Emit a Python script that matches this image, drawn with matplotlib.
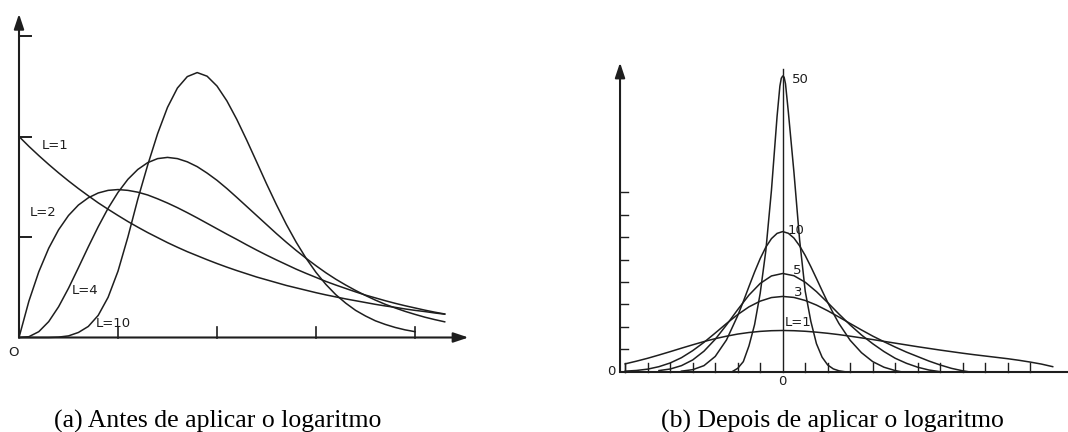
import matplotlib.pyplot as plt

W, H = 1068, 432

# (a) intensity densities for L looks, unit mean
x_int = [0.00, 0.05, 0.10, 0.15, 0.20, 0.25, 0.30, 0.35, 0.40, 0.45,
         0.50, 0.55, 0.60, 0.65, 0.70, 0.75, 0.80, 0.85, 0.90, 0.95,
         1.00, 1.05, 1.10, 1.15, 1.20, 1.25, 1.30, 1.35, 1.40, 1.45,
         1.50, 1.55, 1.60, 1.65, 1.70, 1.75, 1.80, 1.85, 1.90, 1.95,
         2.00, 2.05, 2.10, 2.15]
int_l1 = [1.000, 0.951, 0.905, 0.861, 0.819, 0.779, 0.741, 0.705, 0.670, 0.638,
          0.607, 0.577, 0.549, 0.522, 0.497, 0.472, 0.449, 0.427, 0.407, 0.387,
          0.368, 0.350, 0.333, 0.317, 0.301, 0.287, 0.273, 0.259, 0.247, 0.235,
          0.223, 0.212, 0.202, 0.192, 0.183, 0.174, 0.165, 0.157, 0.150, 0.142,
          0.135, 0.129, 0.122, 0.116]
int_l2 = [0.000, 0.181, 0.327, 0.444, 0.536, 0.607, 0.659, 0.695, 0.719, 0.732,
          0.736, 0.732, 0.723, 0.709, 0.690, 0.669, 0.646, 0.621, 0.595, 0.568,
          0.541, 0.514, 0.488, 0.461, 0.435, 0.410, 0.386, 0.363, 0.340, 0.319,
          0.299, 0.279, 0.261, 0.244, 0.227, 0.211, 0.197, 0.183, 0.170, 0.158,
          0.147, 0.136, 0.126, 0.117]
int_l4 = [0.000, 0.004, 0.029, 0.079, 0.153, 0.245, 0.347, 0.451, 0.551, 0.643,
          0.722, 0.787, 0.836, 0.870, 0.890, 0.896, 0.890, 0.874, 0.850, 0.818,
          0.782, 0.741, 0.697, 0.652, 0.607, 0.562, 0.517, 0.474, 0.433, 0.394,
          0.357, 0.322, 0.290, 0.261, 0.234, 0.209, 0.186, 0.165, 0.147, 0.130,
          0.115, 0.101, 0.089, 0.078]
x_int10 = x_int[:41]
int_l10 = [0.000, 0.000, 0.000, 0.000, 0.002, 0.008, 0.025, 0.055, 0.110, 0.200,
           0.330, 0.500, 0.688, 0.858, 1.014, 1.145, 1.241, 1.298, 1.318, 1.300,
           1.251, 1.177, 1.085, 0.982, 0.874, 0.765, 0.661, 0.563, 0.474, 0.394,
           0.324, 0.264, 0.213, 0.171, 0.135, 0.107, 0.083, 0.065, 0.050, 0.038,
           0.029]
int_labels = ['L=1', 'L=2', 'L=4', 'L=10']
int_label_pos = [(0.116, 0.955), (0.056, 0.623), (0.268, 0.234), (0.389, 0.071)]
int_xticks = [0.5, 1.0, 1.5, 2.0]
int_yticks = [0.5, 1.0, 1.5]

# (b) densities after the log transform
x_log1 = [-1.4, -1.3, -1.2, -1.1, -1.0, -0.9, -0.8, -0.7, -0.6, -0.5,
          -0.4, -0.3, -0.2, -0.1, 0.0, 0.1, 0.2, 0.3, 0.4, 0.5,
          0.6, 0.7, 0.8, 0.9, 1.0, 1.1, 1.2, 1.3, 1.4, 1.5,
          1.6, 1.7, 1.8, 1.9, 2.0, 2.1, 2.2, 2.3, 2.4]
log_l1 = [0.070, 0.094, 0.120, 0.149, 0.179, 0.210, 0.240, 0.269, 0.295, 0.317,
          0.336, 0.350, 0.360, 0.366, 0.368, 0.366, 0.361, 0.353, 0.343, 0.331,
          0.317, 0.302, 0.287, 0.271, 0.255, 0.239, 0.223, 0.208, 0.193, 0.179,
          0.165, 0.152, 0.140, 0.128, 0.116, 0.102, 0.086, 0.068, 0.045]
x_log3 = [-1.4, -1.3, -1.2, -1.1, -1.0, -0.9, -0.8, -0.7, -0.6, -0.5,
          -0.4, -0.3, -0.2, -0.1, 0.0, 0.1, 0.2, 0.3, 0.4, 0.5,
          0.6, 0.7, 0.8, 0.9, 1.0, 1.1, 1.2, 1.3, 1.4, 1.5, 1.6, 1.65]
log_l3 = [0.005, 0.011, 0.023, 0.045, 0.078, 0.125, 0.188, 0.262, 0.345, 0.430,
          0.510, 0.579, 0.630, 0.662, 0.672, 0.663, 0.636, 0.595, 0.544, 0.488,
          0.430, 0.373, 0.318, 0.268, 0.220, 0.175, 0.135, 0.095, 0.060, 0.030,
          0.008, 0.000]
x_log5 = [-1.1, -1.0, -0.9, -0.8, -0.7, -0.6, -0.5, -0.4, -0.3, -0.2, -0.1,
          0.0, 0.1, 0.2, 0.3, 0.4, 0.5, 0.6, 0.7, 0.8, 0.9, 1.0, 1.1, 1.2,
          1.3, 1.4]
log_l5 = [0.010, 0.024, 0.054, 0.105, 0.183, 0.289, 0.417, 0.554, 0.684, 0.788,
          0.855, 0.877, 0.857, 0.799, 0.715, 0.617, 0.515, 0.417, 0.328, 0.250,
          0.180, 0.120, 0.075, 0.040, 0.015, 0.000]
x_log10 = [-0.9, -0.8, -0.7, -0.6, -0.5, -0.4, -0.35, -0.3, -0.25, -0.2,
           -0.15, -0.1, -0.05, 0.0, 0.05, 0.1, 0.15, 0.2, 0.25, 0.3,
           0.35, 0.4, 0.45, 0.5, 0.6, 0.7, 0.8, 0.9, 1.0, 1.05]
log_l10 = [0.005, 0.018, 0.054, 0.136, 0.283, 0.500, 0.627, 0.760, 0.890, 1.010,
           1.112, 1.188, 1.235, 1.251, 1.236, 1.193, 1.124, 1.038, 0.938, 0.832,
           0.724, 0.619, 0.521, 0.430, 0.280, 0.170, 0.090, 0.040, 0.010, 0.000]
x_log50 = [-0.45, -0.40, -0.35, -0.30, -0.25, -0.20, -0.15, -0.10, -0.05, -0.025,
           -0.0125, 0.0, 0.0125, 0.025, 0.05, 0.10, 0.15, 0.20, 0.25, 0.30,
           0.35, 0.40, 0.45, 0.50, 0.55]
log_l50 = [0.000, 0.030, 0.090, 0.230, 0.420, 0.700, 1.080, 1.620, 2.280, 2.550,
           2.620, 2.640, 2.630, 2.570, 2.320, 1.780, 1.180, 0.720, 0.450, 0.250,
           0.130, 0.060, 0.025, 0.008, 0.000]
log_labels = ['50', '10', '5', '3', 'L=1']
log_label_pos = [(0.08, 2.61), (0.045, 1.265), (0.095, 0.908), (0.104, 0.705), (0.02, 0.4375)]
log_xticks = [-1.4, -1.2, -1.0, -0.8, -0.6, -0.4, -0.2, 0.2, 0.4, 0.6, 0.8,
              1.0, 1.2, 1.4, 1.6, 1.8, 2.0, 2.2]
log_yticks = [0.2, 0.4, 0.6, 0.8, 1.0, 1.2, 1.4, 1.6]

ink = '#1e1e1e'
label_font = dict(family='DejaVu Sans', fontsize=9.5, color=ink)


def place(fig, ox, oy, sx, sy, xlim, ylim):
    # axes whose data origin sits at pixel (ox, oy) with sx, sy pixels per unit
    left = ox + xlim[0] * sx
    right = ox + xlim[1] * sx
    top = oy - ylim[1] * sy
    bottom = oy - ylim[0] * sy
    ax = fig.add_axes([left / W, 1 - bottom / H, (right - left) / W, (bottom - top) / H])
    ax.set_xlim(*xlim)
    ax.set_ylim(*ylim)
    ax.axis('off')
    return ax


def arrow(ax, start, end):
    ax.annotate('', xy=end, xytext=start,
                arrowprops=dict(arrowstyle='-|>,head_length=0.9,head_width=0.3',
                                color=ink, lw=1.5, shrinkA=0, shrinkB=0),
                annotation_clip=False)


fig = plt.figure(figsize=(W / 100, H / 100), dpi=100)

# (a) before the log
ax = place(fig, 19, 337.5, 198, 201, (-0.09, 2.40), (-0.25, 1.66))
arrow(ax, (0, 0), (0, 1.61))
arrow(ax, (0, 0), (2.27, 0))
for t in int_yticks:
    ax.plot([0, 0.062], [t, t], color=ink, lw=1.4)
for t in int_xticks:
    ax.plot([t, t], [0, 0.052], color=ink, lw=1.2)
ax.plot(x_int, int_l1, color=ink, lw=1.1)
ax.plot(x_int, int_l2, color=ink, lw=1.1)
ax.plot(x_int, int_l4, color=ink, lw=1.1)
ax.plot(x_int10, int_l10, color=ink, lw=1.1)
for lab, (lx, ly) in zip(int_labels, int_label_pos):
    ax.text(lx, ly, lab, ha='left', va='center', **label_font)
ax.text(-0.03, -0.075, 'O', ha='center', va='center', **label_font)

# (b) after the log
ax = place(fig, 782.7, 371.7, 112.5, 112, (-1.6, 2.54), (-0.32, 2.8))
arrow(ax, (-1.446, 0), (-1.446, 2.76))
ax.plot([-1.446, 2.54], [0, 0], color=ink, lw=1.5)
ax.plot([0, 0], [0, 2.70], color=ink, lw=1.0)
for t in log_yticks:
    ax.plot([-1.446, -1.376], [t, t], color=ink, lw=1.0)
for t in log_xticks:
    ax.plot([t, t], [0, 0.075], color=ink, lw=1.0)
ax.plot(x_log1, log_l1, color=ink, lw=1.1)
ax.plot([x_log1[0], x_log1[0]], [0, log_l1[0]], color=ink, lw=1.0)
ax.plot(x_log3, log_l3, color=ink, lw=1.1)
ax.plot(x_log5, log_l5, color=ink, lw=1.1)
ax.plot(x_log10, log_l10, color=ink, lw=1.1)
ax.plot(x_log50, log_l50, color=ink, lw=1.1)
for lab, (lx, ly) in zip(log_labels, log_label_pos):
    ax.text(lx, ly, lab, ha='left', va='center', **label_font)
ax.text(0, -0.09, '0', ha='center', va='center', **label_font)
ax.text(-1.527, 0, '0', ha='center', va='center', **label_font)

# captions
cap_font = dict(family='Liberation Serif', fontsize=18.5, color='black', va='baseline', ha='center')
fig.text(218 / W, (H - 428) / H, '(a) Antes de aplicar o logaritmo', **cap_font)
fig.text(832 / W, (H - 428) / H, '(b) Depois de aplicar o logaritmo', **cap_font)

fig.savefig('out.png', dpi=100)
